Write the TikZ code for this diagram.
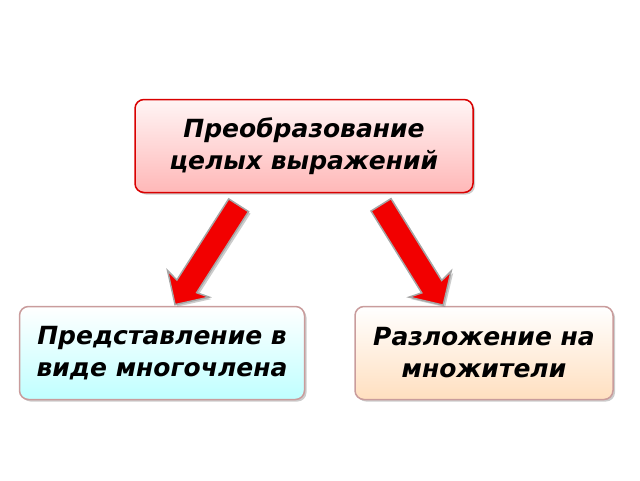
\documentclass[tikz,border=0pt]{standalone}
\usepackage{fontspec}
\setmainfont{DejaVu Sans}
\usetikzlibrary{shapes.arrows,shadows}
\tikzset{
  boxtext/.style={font=\fontsize{25}{32}\selectfont\bfseries\itshape, align=center, rounded corners=9pt, line width=1.5pt, drop shadow={shadow xshift=2pt,shadow yshift=-2pt,opacity=0.4}},
  bigarrow/.style={single arrow, draw=gray!70, line width=1.5pt, fill=red!95!black, minimum height=118pt, inner sep=0pt, inner ysep=11pt, single arrow head extend=13pt, single arrow head indent=3pt, drop shadow={shadow xshift=2pt,shadow yshift=-2pt,opacity=0.4}}
}
\begin{document}
\begin{tikzpicture}[x=1pt,y=-1pt]
\useasboundingbox (0,0) rectangle (640,480);
\node[boxtext, draw=red!85!black, top color=red!4, bottom color=red!28, minimum width=338pt, minimum height=93pt] (top) at (304,146) {Преобразование\\целых выражений};
\node[boxtext, draw=red!30!gray!60, top color=white, bottom color=cyan!25, minimum width=285pt, minimum height=93pt] (left) at (162,353) {Представление в\\виде многочлена};
\node[boxtext, draw=red!30!gray!60, top color=white, bottom color=orange!25, minimum width=258pt, minimum height=93pt] (right) at (484,353) {Разложение на\\множители};
\node[bigarrow, rotate=-122.6] (a1) at (210,250) {};
\node[bigarrow, rotate=-58.2] (a2) at (409,250) {};
\end{tikzpicture}
\end{document}
